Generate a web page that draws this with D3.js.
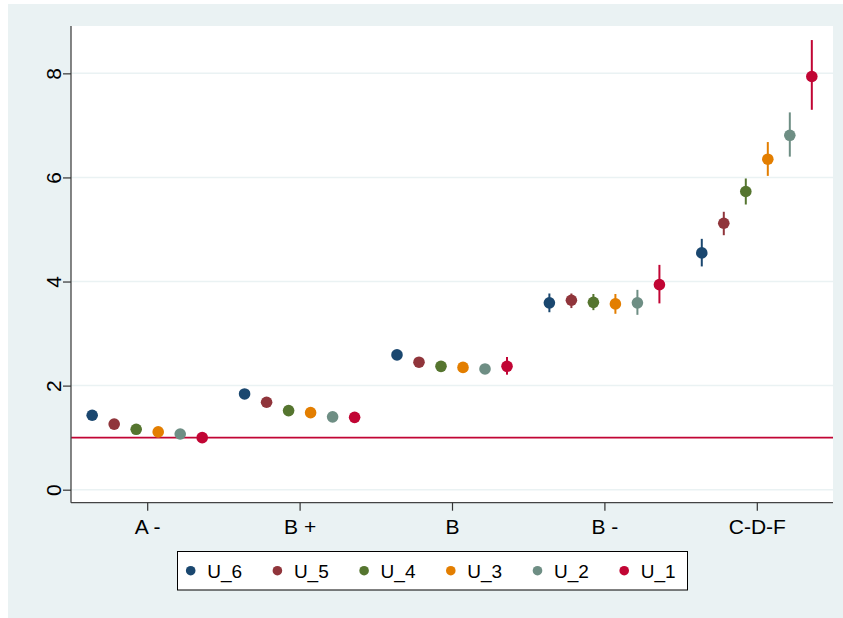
<!DOCTYPE html>
<html>
<head>
<meta charset="utf-8">
<script src="https://cdn.jsdelivr.net/npm/d3@7"></script>
<style>
  body { margin: 0; background: #fff; }
  svg { display: block; font-family: "Liberation Sans", Arial, sans-serif; }
</style>
</head>
<body>
<div id="chart"></div>
<script>
var categories = ["A -", "B +", "B", "B -", "C-D-F"];
var seriesNames = ["U_6", "U_5", "U_4", "U_3", "U_2", "U_1"];
var seriesColors = ["#1a476f", "#90353b", "#55752f", "#e37e00", "#6e8e84", "#c10534"];

// point estimates, one row per series, one value per category
var estimates = [
  [1.43, 1.84, 2.59, 3.59, 4.55],
  [1.26, 1.68, 2.45, 3.64, 5.12],
  [1.16, 1.52, 2.37, 3.60, 5.73],
  [1.11, 1.48, 2.35, 3.57, 6.35],
  [1.07, 1.40, 2.32, 3.59, 6.81],
  [1.00, 1.39, 2.37, 3.94, 7.94]
];
var lower = [
  [1.40, 1.80, 2.55, 3.41, 4.29],
  [1.23, 1.64, 2.41, 3.49, 4.89],
  [1.13, 1.48, 2.33, 3.45, 5.48],
  [1.08, 1.44, 2.31, 3.38, 6.03],
  [1.04, 1.36, 2.27, 3.36, 6.40],
  [1.00, 1.33, 2.21, 3.58, 7.30]
];
var upper = [
  [1.46, 1.88, 2.63, 3.77, 4.82],
  [1.29, 1.72, 2.49, 3.77, 5.34],
  [1.19, 1.56, 2.41, 3.76, 5.98],
  [1.14, 1.52, 2.39, 3.76, 6.68],
  [1.10, 1.44, 2.37, 3.84, 7.25],
  [1.00, 1.45, 2.55, 4.32, 8.64]
];
var yTicks = [0, 2, 4, 6, 8];
var refValue = 1;

var W = 843, H = 618;
var MARGIN = {top: 26, right: 10, bottom: 115, left: 71};
var plotW = 833 - MARGIN.left, plotH = 502.7 - MARGIN.top;

var svg = d3.select("#chart").append("svg").attr("width", W).attr("height", H);

svg.append("rect").attr("x", 8).attr("y", 4).attr("width", W - 8).attr("height", H - 4)
  .attr("fill", "#eaf2f3");

var g = svg.append("g").attr("transform", "translate(" + MARGIN.left + "," + MARGIN.top + ")");

g.append("rect").attr("width", plotW).attr("height", plotH).attr("fill", "#fff");

var x = d3.scalePoint().domain(categories).range([0, plotW]).padding(0.5);
var offset = d3.scalePoint().domain(seriesNames).range([-0.361 * x.step(), 0.361 * x.step()]);
var y = d3.scaleLinear().domain([-0.25, 8.91]).range([plotH, 0]);

// grid
g.selectAll(".grid").data(yTicks).enter().append("line")
  .attr("x1", 0).attr("x2", plotW)
  .attr("y1", function(d) { return y(d); }).attr("y2", function(d) { return y(d); })
  .attr("stroke", "#eaf2f3").attr("stroke-width", 1.5);

// reference line
g.append("line").attr("x1", 0).attr("x2", plotW)
  .attr("y1", y(refValue)).attr("y2", y(refValue))
  .attr("stroke", "#c10534").attr("stroke-width", 1.6);

// axes
var yAxis = g.append("g")
  .call(d3.axisLeft(y).tickValues(yTicks).tickSize(8).tickPadding(6).tickFormat(d3.format("d")));
yAxis.select(".domain").attr("d", "M0," + plotH + "V0").attr("stroke", "#444").attr("stroke-width", 1.3);
yAxis.selectAll(".tick line").attr("stroke", "#333").attr("stroke-width", 1.2);
yAxis.selectAll(".tick text")
  .attr("font-size", 21).attr("fill", "#000")
  .attr("text-anchor", "middle").attr("dy", 0)
  .attr("transform", "translate(-18,0) rotate(-90)")
  .attr("x", 0).attr("y", 0)
  .attr("dominant-baseline", "central");

var xAxis = g.append("g").attr("transform", "translate(0," + plotH + ")")
  .call(d3.axisBottom(x).tickSize(8).tickPadding(8));
xAxis.select(".domain").attr("d", "M0,0H" + plotW).attr("stroke", "#444").attr("stroke-width", 1.3);
xAxis.selectAll(".tick line").attr("stroke", "#333").attr("stroke-width", 1.2);
xAxis.selectAll(".tick text").attr("font-size", 21).attr("fill", "#000");

// series
var rows = seriesNames.map(function(name, i) {
  return categories.map(function(c, j) {
    return {name: name, cat: c, est: estimates[i][j], lo: lower[i][j], hi: upper[i][j], color: seriesColors[i]};
  });
});

var series = g.selectAll(".series").data(rows).enter().append("g").attr("class", "series");

series.selectAll("line").data(function(d) { return d; }).enter().append("line")
  .attr("x1", function(d) { return x(d.cat) + offset(d.name); })
  .attr("x2", function(d) { return x(d.cat) + offset(d.name); })
  .attr("y1", function(d) { return y(d.lo); })
  .attr("y2", function(d) { return y(d.hi); })
  .attr("stroke", function(d) { return d.color; })
  .attr("stroke-width", 2);

series.selectAll("circle").data(function(d) { return d; }).enter().append("circle")
  .attr("cx", function(d) { return x(d.cat) + offset(d.name); })
  .attr("cy", function(d) { return y(d.est); })
  .attr("r", 5.8)
  .attr("fill", function(d) { return d.color; });

// legend
var legend = svg.append("g").attr("transform", "translate(177.5,551.5)");
legend.append("rect").attr("width", 510).attr("height", 38.5)
  .attr("fill", "#fff").attr("stroke", "#000").attr("stroke-width", 1);

var items = legend.selectAll(".item").data(seriesNames).enter().append("g")
  .attr("transform", function(d, i) { return "translate(" + (13.2 + i * 86.7) + ",19.2)"; });
items.append("circle").attr("r", 4.8).attr("fill", function(d, i) { return seriesColors[i]; });
items.append("text").attr("x", 16.5).attr("y", 7).attr("font-size", 19).attr("fill", "#000")
  .text(function(d) { return d; });
</script>
</body>
</html>
